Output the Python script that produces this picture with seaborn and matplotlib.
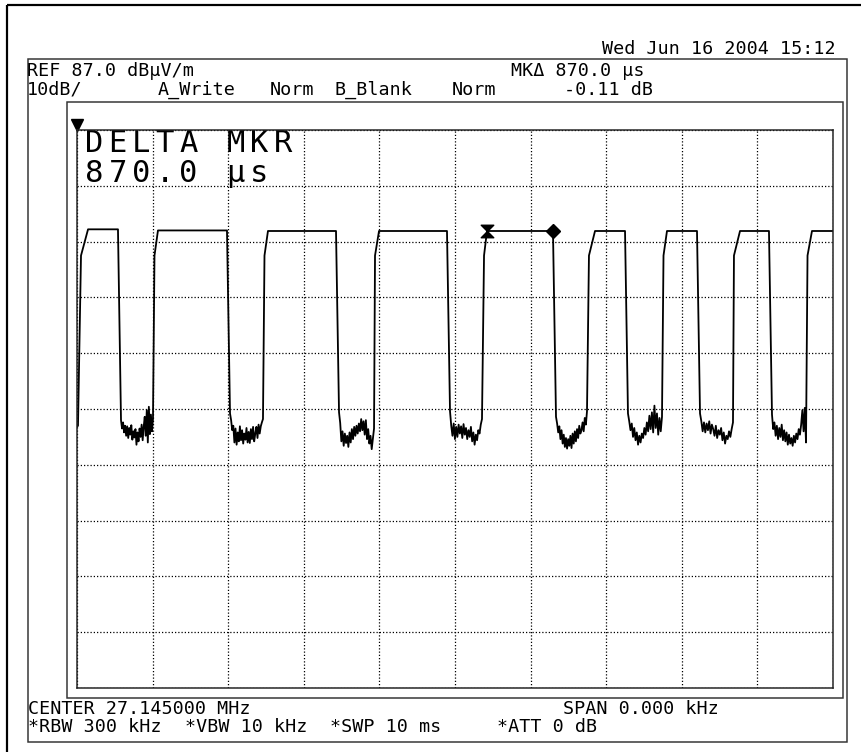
import numpy as np
import pandas as pd
import matplotlib
matplotlib.use("Agg")
import matplotlib.pyplot as plt
import seaborn as sns
from matplotlib.path import Path
from matplotlib.patches import Rectangle

# ---------------- data (time in ms, level in dBuV/m) ----------------
ref_level_db = 87.0
db_per_div = 10.0
sweep_ms = 10.0

lead_db = [33.8, 34.0]
rise_low_ms = [0.013, 1.005, 2.460, 3.929, 5.357, 6.746, 7.738, 8.677, 9.643]
rise_knee_ms = [0.053, 1.025, 2.480, 3.942, 5.384, 6.772, 7.758, 8.690, 9.663]
rise_top_ms = [0.146, 1.071, 2.526, 3.995, 5.423, 6.852, 7.804, 8.770, 9.722]
fall_top_ms = [0.542, 1.984, 3.426, 4.894, 6.296, 7.249, 8.201, 9.153]
fall_low_ms = [0.582, 2.024, 3.466, 4.934, 6.336, 7.288, 8.241, 9.193]
knee_db = 64.5
top_db = [69.2, 69.0, 68.9, 68.9, 68.9, 68.9, 68.9, 68.9, 68.9]

gap1_db = [35.0, 33.5, 34.6, 32.8, 34.0, 32.2, 33.9, 31.8, 33.6, 32.4, 34.1,
           31.5, 33.0, 31.9, 33.4, 30.6, 32.8, 31.2, 33.5, 32.0, 34.2, 31.4,
           33.8, 35.6, 32.2, 36.8, 31.0, 37.4, 32.5, 36.0, 33.0, 35.2]
gap2_db = [36.2, 35.0, 33.2, 34.0, 31.0, 33.5, 30.6, 32.8, 31.2, 33.9, 31.4,
           33.2, 30.8, 32.6, 31.5, 33.6, 31.0, 32.9, 30.9, 33.4, 31.6, 33.8,
           31.2, 32.6, 33.8, 31.8, 34.2, 32.6, 33.9, 34.6, 35.2]
gap3_db = [36.4, 34.5, 31.2, 33.0, 30.4, 32.6, 30.9, 32.2, 30.2, 32.8, 31.0,
           33.4, 31.6, 33.8, 32.2, 34.0, 32.6, 34.4, 33.0, 35.2, 33.2, 34.8,
           32.4, 35.0, 31.6, 33.4, 30.8, 32.2, 29.8, 31.6, 33.5]
gap4_db = [36.6, 34.0, 32.2, 34.4, 31.6, 33.8, 32.0, 34.2, 32.6, 33.9, 31.8,
           34.3, 32.4, 33.6, 31.6, 33.2, 32.0, 33.8, 31.2, 32.8, 30.6, 32.4,
           31.4, 33.2, 32.6, 34.2, 35.2]
gap5_db = [35.6, 34.4, 32.8, 33.9, 31.6, 33.2, 30.8, 32.4, 30.2, 31.8, 29.9,
           31.6, 30.4, 32.2, 30.0, 32.6, 30.8, 33.0, 31.2, 33.4, 31.8, 34.0,
           32.6, 33.2, 34.6, 33.0, 35.4, 34.2, 36.6]
gap6_db = [36.2, 34.8, 33.2, 34.4, 32.0, 33.6, 31.4, 32.8, 30.6, 32.2, 31.0,
           32.6, 31.8, 33.6, 32.4, 34.6, 33.0, 35.8, 33.4, 36.4, 32.8, 37.6,
           33.6, 36.2, 32.4, 35.4, 33.0, 35.6]
gap7_db = [36.2, 34.8, 33.0, 34.6, 32.8, 34.4, 33.2, 34.8, 32.6, 34.2, 33.4,
           32.2, 34.0, 31.8, 33.2, 32.4, 33.6, 31.4, 32.8, 30.8, 32.2, 31.6,
           33.0, 32.0, 33.4, 34.6]
gap8_db = [36.0, 33.4, 34.6, 32.2, 34.0, 31.6, 33.6, 32.0, 34.2, 31.4, 33.2,
           31.2, 32.8, 30.6, 32.4, 30.8, 31.8, 30.4, 32.2, 31.0, 32.6, 31.6,
           33.4, 32.4, 34.2, 36.8, 33.0, 37.2, 31.0]

marker1_ms, marker1_db = 5.426, 68.9
marker2_ms, marker2_db = 6.296, 68.9

header_lines = {
    "date": "Wed Jun 16 2004 15:12",
    "ref": "REF 87.0 dB\u00b5V/m",
    "scale": "10dB/",
    "trace_a": "A_Write",
    "norm_a": "Norm",
    "trace_b": "B_Blank",
    "norm_b": "Norm",
    "mk_time": "MK\u0394 870.0 \u00b5s",
    "mk_level": "-0.11 dB",
    "center": "CENTER 27.145000 MHz",
    "span": "SPAN 0.000 kHz",
    "rbw": "*RBW 300 kHz",
    "vbw": "*VBW 10 kHz",
    "swp": "*SWP 10 ms",
    "att": "*ATT 0 dB",
}
delta_lines = ["DELTA MKR", "870.0 \u00b5s"]

# ---------------- build trace ----------------
gaps = [lead_db, gap1_db, gap2_db, gap3_db, gap4_db, gap5_db, gap6_db, gap7_db, gap8_db]
gap_start = [0.0] + fall_low_ms
t_vals, d_vals = [], []
for i in range(len(rise_low_ms)):
    g = gaps[i]
    t_vals += list(np.linspace(gap_start[i], rise_low_ms[i], len(g)))
    d_vals += list(g)
    t_vals += [rise_knee_ms[i], rise_top_ms[i]]
    d_vals += [knee_db, top_db[i]]
    if i < len(fall_top_ms):
        t_vals.append(fall_top_ms[i])
    else:
        t_vals.append(sweep_ms)
    d_vals.append(top_db[i])
df = pd.DataFrame({"t": t_vals, "db": d_vals})

# ---------------- figure ----------------
sns.set_theme(style="white")
plt.rcParams["font.family"] = ["DejaVu Sans Mono", "DejaVu Sans"]
W, H = 862, 752
fig = plt.figure(figsize=(W / 100, H / 100), dpi=100)
fig.patch.set_facecolor("white")

bg = fig.add_axes([0, 0, 1, 1], zorder=0)
bg.set_xlim(0, W)
bg.set_ylim(H, 0)
bg.axis("off")

px = 0.72  # points per pixel
bg.add_patch(Rectangle((7, 5), 900, 800, fill=False, ec="black", lw=2.2 * px, clip_on=False))
bg.add_patch(Rectangle((28, 59), 819, 683, fill=False, ec="#333333", lw=1.5 * px))
bg.add_patch(Rectangle((67, 102), 776, 596, fill=False, ec="#333333", lw=1.5 * px))

gx0, gx1, gy0, gy1 = 77, 833, 130, 688
ax = fig.add_axes([gx0 / W, (H - gy1) / H, (gx1 - gx0) / W, (gy1 - gy0) / H], zorder=1)
ax.set_facecolor("none")

sns.lineplot(data=df, x="t", y="db", sort=False, estimator=None, ax=ax,
             color="black", lw=1.3, legend=False)

bowtie = Path([(-1, 1), (1, 1), (-1, -1), (1, -1), (-1, 1)],
              [Path.MOVETO, Path.LINETO, Path.LINETO, Path.LINETO, Path.CLOSEPOLY])
ax.plot([marker1_ms], [marker1_db], marker=bowtie, ms=9, color="black", ls="none", zorder=5)
ax.plot([marker2_ms], [marker2_db], marker="D", ms=7, color="black", ls="none", zorder=5)

ax.set_xlim(0, sweep_ms)
ax.set_ylim(ref_level_db - 10 * db_per_div, ref_level_db)
ax.set_xticks(np.arange(0, sweep_ms + 0.5, 1.0))
ax.set_yticks(np.arange(ref_level_db - 10 * db_per_div, ref_level_db + 1, db_per_div))
ax.tick_params(length=0, labelbottom=False, labelleft=False)
ax.set_xlabel("")
ax.set_ylabel("")
ax.grid(True, color="black", lw=0.9, linestyle=(0, (1, 1.6)))
for s in ax.spines.values():
    s.set_visible(True)
    s.set_color("#222222")
    s.set_linewidth(1.5 * px)

# reference level triangle
bg.plot([77.5], [124.5], marker="v", ms=8, color="black", ls="none")

# header / footer texts
fs = 13.2
tk = dict(fontsize=fs, color="black", va="center", family=["DejaVu Sans Mono", "DejaVu Sans"])
bg.text(836, 49, header_lines["date"], ha="right", **tk)
bg.text(27, 71, header_lines["ref"], ha="left", **tk)
bg.text(27, 90, header_lines["scale"], ha="left", **tk)
bg.text(158, 90, header_lines["trace_a"], ha="left", **tk)
bg.text(270, 90, header_lines["norm_a"], ha="left", **tk)
bg.text(335, 90, header_lines["trace_b"], ha="left", **tk)
bg.text(452, 90, header_lines["norm_b"], ha="left", **tk)
bg.text(511, 71, header_lines["mk_time"], ha="left", **tk)
bg.text(653, 90, header_lines["mk_level"], ha="right", **tk)
bg.text(28, 709, header_lines["center"], ha="left", **tk)
bg.text(563, 709, header_lines["span"], ha="left", **tk)
bg.text(28, 727, header_lines["rbw"], ha="left", **tk)
bg.text(185, 727, header_lines["vbw"], ha="left", **tk)
bg.text(330, 727, header_lines["swp"], ha="left", **tk)
bg.text(497, 727, header_lines["att"], ha="left", **tk)

# big delta-marker readout, monospaced with wide pitch
pitch = 23.6
for row, (line, yy) in enumerate(zip(delta_lines, [143, 174])):
    for k, ch in enumerate(line):
        bg.text(85 + k * pitch + pitch * 0.38, yy, ch, ha="center", va="center",
                fontsize=22, family=["DejaVu Sans Mono"], color="black", zorder=3)

fig.savefig("out.png", dpi=100, facecolor="white")
